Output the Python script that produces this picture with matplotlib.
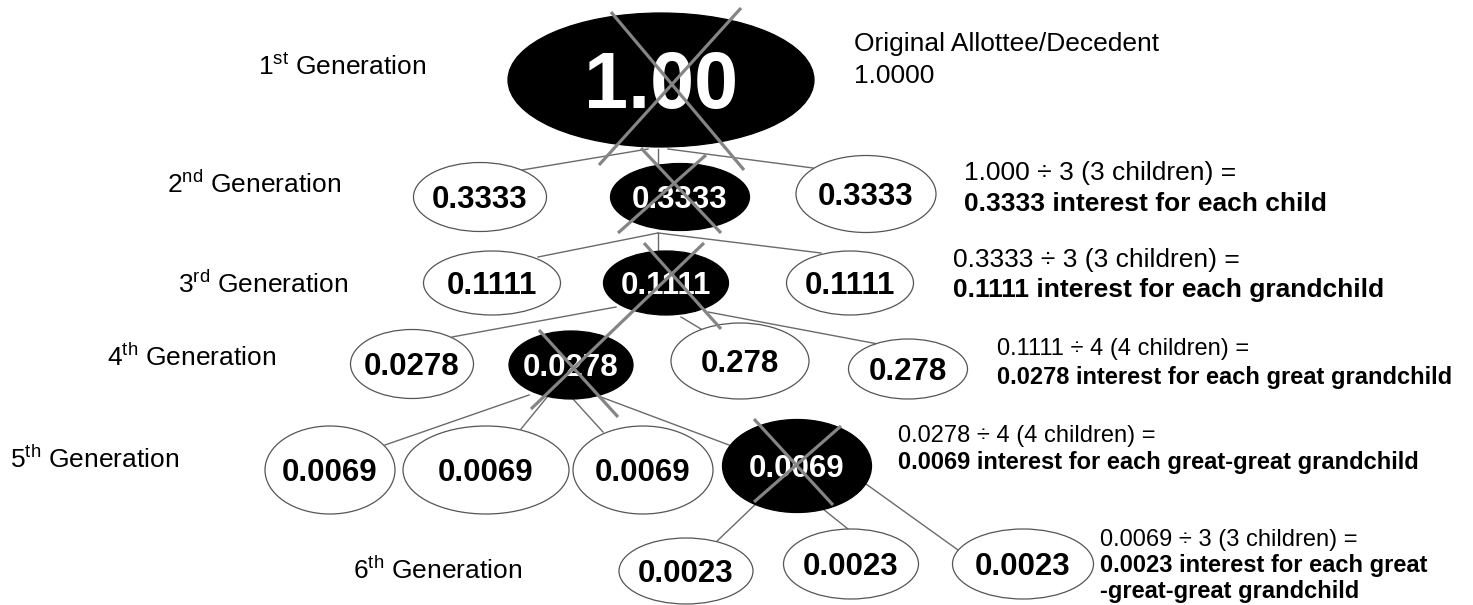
import matplotlib
matplotlib.use("Agg")
import matplotlib.pyplot as plt
from matplotlib.patches import Ellipse

plt.rcParams['font.family'] = ['Liberation Sans', 'DejaVu Sans']
plt.rcParams['mathtext.fontset'] = 'custom'
plt.rcParams['mathtext.rm'] = 'Liberation Sans'
plt.rcParams['mathtext.it'] = 'Liberation Sans'
plt.rcParams['mathtext.bf'] = 'Liberation Sans:bold'

# ---------------- data ----------------
generation_ordinals = ["1", "2", "3", "4", "5", "6"]
generation_suffixes = ["st", "nd", "rd", "th", "th", "th"]

gen1_values = ["1.00"]
gen2_values = ["0.3333", "0.3333", "0.3333"]
gen3_values = ["0.1111", "0.1111", "0.1111"]
gen4_values = ["0.0278", "0.0278", "0.278", "0.278"]
gen5_values = ["0.0069", "0.0069", "0.0069", "0.0069"]
gen6_values = ["0.0023", "0.0023", "0.0023"]

gen1_deceased = [True]
gen2_deceased = [False, True, False]
gen3_deceased = [False, True, False]
gen4_deceased = [False, True, False, False]
gen5_deceased = [False, False, False, True]
gen6_deceased = [False, False, False]

note_lines = [
    [("Original Allottee/Decedent", False), ("1.0000", False)],
    [("1.000 \u00f7 3 (3 children) =", False), ("0.3333 interest for each child", True)],
    [("0.3333 \u00f7 3 (3 children) =", False), ("0.1111 interest for each grandchild", True)],
    [("0.1111 \u00f7 4 (4 children) =", False), ("0.0278 interest for each great grandchild", True)],
    [("0.0278 \u00f7 4 (4 children) =", False), ("0.0069 interest for each great-great grandchild", True)],
    [("0.0069 \u00f7 3 (3 children) =", False), ("0.0023 interest for each great", True),
     ("-great-great grandchild", True)],
]

# ---------------- layout (pixel coordinates) ----------------
# node ellipses: (cx, cy, w, h)
gen1_layout = [(661, 80, 306, 134)]
gen2_layout = [(480, 197, 133, 69), (680, 197, 139, 67), (866, 194, 140, 77)]
gen3_layout = [(492, 283, 137, 64), (666, 283, 125, 64), (850, 283, 127, 64)]
gen4_layout = [(412, 364, 123, 69), (571, 365, 124, 68), (740, 361, 138, 76), (908, 369, 119, 60)]
gen5_layout = [(330, 470, 130, 88), (486, 470, 166, 88), (643, 470, 140, 88), (797, 466, 149, 93)]
gen6_layout = [(686, 571, 134, 66), (851, 564, 135, 70), (1023, 564, 141, 70)]

label_pos = [(258, 75), (167, 193), (178, 293), (107, 366), (10, 468), (353, 579)]

note_pos = [(854, [51, 83], 19),
            (964, [180, 211], 19),
            (953, [267, 297], 19),
            (997, [355, 384], 17),
            (898, [442, 469], 17),
            (1100, [546, 572, 598], 17)]

connectors = [
    ((516, 171), (648, 149)), ((658, 149), (658, 163)), ((668, 149), (813, 168)),
    ((658, 233), (538, 257)), ((658, 233), (658, 250)), ((658, 233), (821, 253)),
    ((616, 307), (452, 337)), ((681, 317), (701, 329)), ((708, 312), (878, 344)),
    ((529, 395), (385, 445)), ((548, 396), (521, 429)), ((573, 399), (603, 432)),
    ((601, 397), (729, 445)),
    ((760, 500), (714, 544)), ((823, 509), (858, 537)), ((866, 484), (958, 550)),
]

cross_lines = [
    ((611, 12), (744, 170)), ((741, 8), (599, 165)),
    ((641, 148), (721, 233)), ((706, 155), (618, 233)),
    ((644, 243), (721, 329)), ((704, 243), (531, 409)),
    ((539, 330), (618, 417)),
    ((754, 419), (833, 505)), ((841, 426), (754, 502)),
]

# ---------------- drawing ----------------
fig = plt.figure(figsize=(14.73, 6.05), dpi=100)
ax = fig.add_axes([0, 0, 1, 1])
ax.set_xlim(0, 1473)
ax.set_ylim(605, 0)
ax.axis('off')

for (x0, y0), (x1, y1) in connectors:
    ax.plot([x0, x1], [y0, y1], color='#6a6a6a', lw=1.0, zorder=1)

generations = [
    (gen1_values, gen1_deceased, gen1_layout, 57),
    (gen2_values, gen2_deceased, gen2_layout, 22.5),
    (gen3_values, gen3_deceased, gen3_layout, 22.5),
    (gen4_values, gen4_deceased, gen4_layout, 22.5),
    (gen5_values, gen5_deceased, gen5_layout, 22.5),
    (gen6_values, gen6_deceased, gen6_layout, 22.5),
]

for values, deceased, layout, fs in generations:
    for val, dead, (cx, cy, w, h) in zip(values, deceased, layout):
        fc = 'black' if dead else 'white'
        ec = 'black' if dead else '#555555'
        ax.add_patch(Ellipse((cx, cy), w, h, facecolor=fc, edgecolor=ec,
                             lw=0.9, zorder=2))
        cap = fs * 100 / 72 * 0.716
        ax.text(cx, cy + cap / 2, val, ha='center', va='baseline',
                fontsize=fs, fontweight='bold',
                color='white' if dead else 'black', zorder=3)

for (x0, y0), (x1, y1) in cross_lines:
    ax.plot([x0, x1], [y0, y1], color='#858585', lw=2.3, zorder=4,
            solid_capstyle='butt')

for num, suf, (x, y) in zip(generation_ordinals, generation_suffixes, label_pos):
    ax.text(x, y, num + r'$^{\mathrm{' + suf + '}}$ Generation', ha='left',
            va='baseline', fontsize=19, color='black')

for lines, (x, ys, fs) in zip(note_lines, note_pos):
    for (txt, bold), y in zip(lines, ys):
        ax.text(x, y, txt, ha='left', va='baseline', fontsize=fs,
                fontweight='bold' if bold else 'normal', color='black')

fig.savefig('out.png', dpi=100, facecolor='white')
